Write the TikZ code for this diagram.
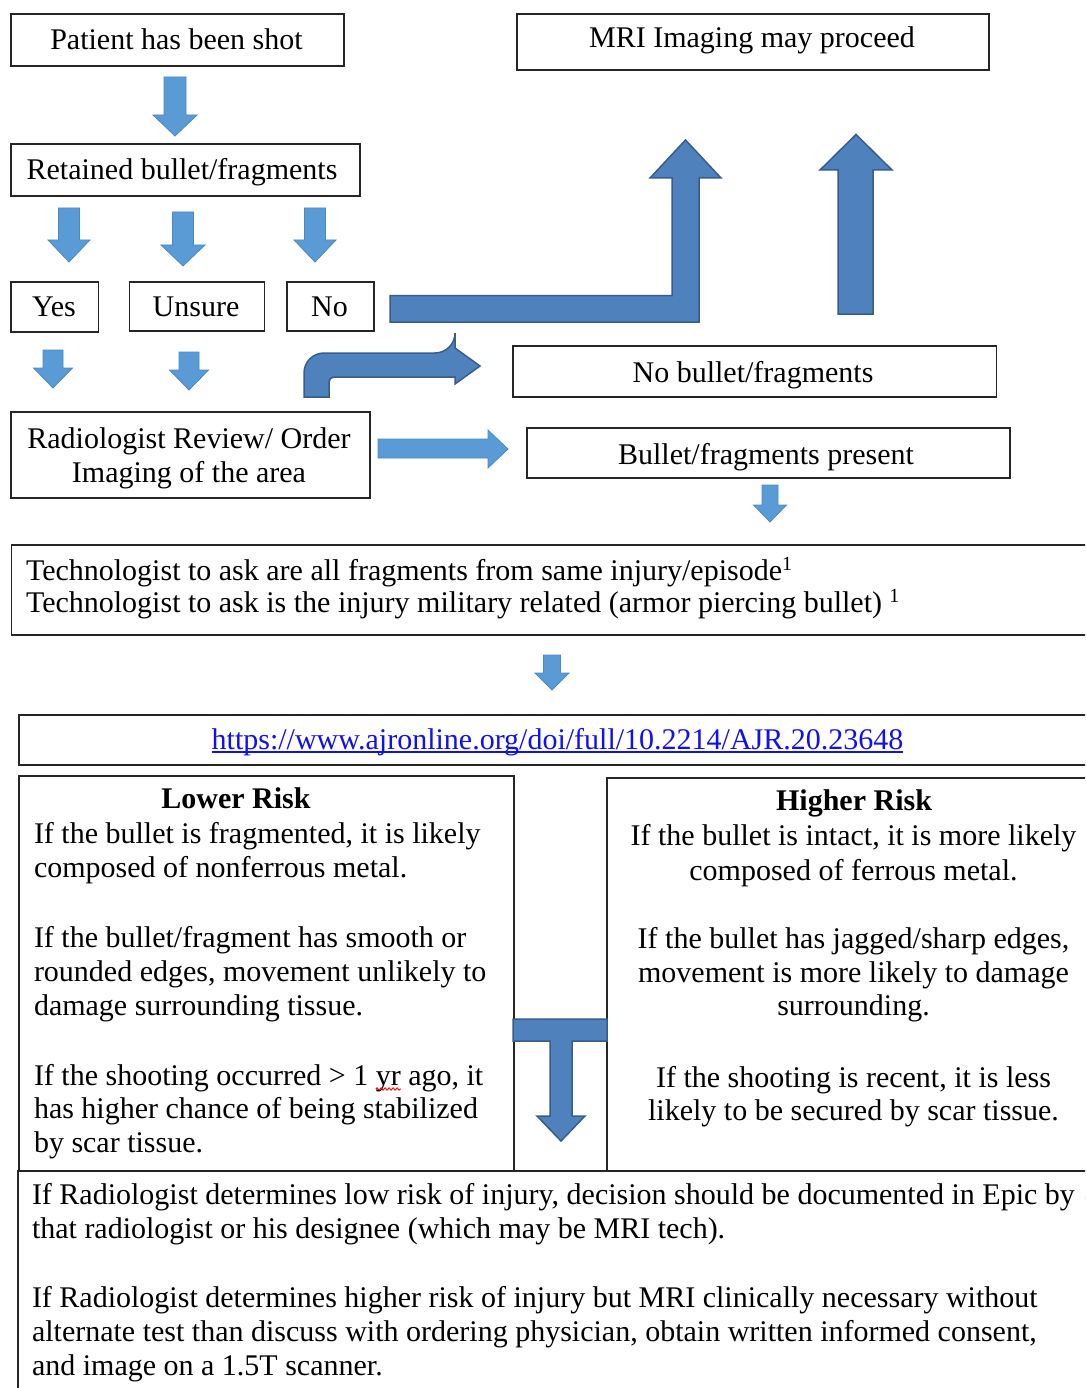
\documentclass[tikz,border=0pt]{standalone}
\usepackage{fontspec}
\setmainfont{Liberation Serif}
\usetikzlibrary{decorations.pathmorphing}
\definecolor{boxc}{HTML}{262626}
\definecolor{lblue}{HTML}{5B9BD5}
\definecolor{lblueline}{HTML}{4A89C8}
\definecolor{dblue}{HTML}{4F81BD}
\definecolor{dblueline}{HTML}{385D8A}
\definecolor{linkblue}{HTML}{1010F0}
\newcommand\tnr{\fontsize{30}{34}\selectfont}
% block arrow pointing down: style, cx, top, headbase, tip, shaft half width, head half width
\newcommand\bdown[7]{\draw[#1] ({#2-#6},#3) -- ({#2+#6},#3) -- ({#2+#6},#4) -- ({#2+#7},#4) -- (#2,#5) -- ({#2-#7},#4) -- ({#2-#6},#4) -- cycle;}
\begin{document}
\begin{tikzpicture}[x=1pt,y=-1pt,
  box/.style={draw=boxc, line width=1.8pt, fill=white, inner sep=0pt, anchor=north west},
  txt/.style={inner sep=0pt, outer sep=0pt, font=\tnr, text=black},
  sarr/.style={fill=lblue, draw=lblueline, line width=0.8pt},
  darr/.style={fill=dblue, draw=dblueline, line width=1.5pt, line join=miter}]
\useasboundingbox (0,0) rectangle (1085,1388);
\clip (0,0) rectangle (1085,1388);
\fill[white] (0,0) rectangle (1085,1388);

% ---- top left column ----
\node[box, minimum width=333pt, minimum height=52pt] (patient) at (10,13) {};
\node[txt, anchor=base] (patientT) at (176.5,50) {Patient has been shot};
\node[box, minimum width=349pt, minimum height=52pt] (retained) at (10,143) {};
\node[txt, anchor=base] (retainedT) at (182,180) {Retained bullet/fragments};
\node[box, minimum width=87.5pt, minimum height=50pt] (yes) at (10,281) {};
\node[txt, anchor=base] (yesT) at (54,316) {Yes};
\node[box, minimum width=135pt, minimum height=49pt] (unsure) at (128.5,281) {};
\node[txt, anchor=base] (unsureT) at (196,316) {Unsure};
\node[box, minimum width=87pt, minimum height=49pt] (no) at (286,281) {};
\node[txt, anchor=base] (noT) at (329.5,316) {No};
\node[box, minimum width=359pt, minimum height=86pt] (radio) at (10,411) {};
\node[txt, anchor=base] (radioT1) at (189,448) {Radiologist Review/ Order};
\node[txt, anchor=base] (radioT2) at (189,482) {Imaging of the area};

% ---- top right column ----
\node[box, minimum width=472pt, minimum height=56pt] (mri) at (516,13) {};
\node[txt, anchor=base] (mriT) at (752,48) {MRI Imaging may proceed};
\node[box, minimum width=483.5pt, minimum height=51pt] (nobullet) at (512,345) {};
\node[txt, anchor=base] (nobulletT) at (753,382) {No bullet/fragments};
\node[box, minimum width=483pt, minimum height=50pt] (present) at (526,427) {};
\node[txt, anchor=base] (presentT) at (766,464) {Bullet/fragments present};

% ---- technologist ----
\node[box, minimum width=1100pt, minimum height=90pt] (tech) at (10.5,544) {};
\node[txt, anchor=base west] (techT1) at (26,580) {Technologist to ask are all fragments from same injury/episode\textsuperscript{\fontsize{20}{20}\selectfont 1}};
\node[txt, anchor=base west] (techT2) at (26,612) {Technologist to ask is the injury military related (armor piercing bullet) \textsuperscript{\fontsize{20}{20}\selectfont 1}};

% ---- url ----
\node[box, minimum width=1100pt, minimum height=50pt] (url) at (18,714) {};
\node[txt, anchor=base, text=linkblue] (urlT) at (557.5,749) {https://www.ajronline.org/doi/full/10.2214/AJR.20.23648};
\draw[linkblue, line width=1.3pt] ([yshift=-3pt]urlT.base west) -- ([yshift=-3pt]urlT.base east);

% ---- lower risk ----
\node[box, minimum width=495pt, minimum height=420pt] (lower) at (18,775) {};
\node[txt, anchor=base, font=\tnr\bfseries] (lowT0) at (236,808) {Lower Risk};
\node[txt, anchor=base west] (lowT1) at (34,843) {If the bullet is fragmented, it is likely};
\node[txt, anchor=base west] (lowT2) at (34,877) {composed of nonferrous metal.};
\node[txt, anchor=base west] (lowT3) at (34,947) {If the bullet/fragment has smooth or};
\node[txt, anchor=base west] (lowT4) at (34,981) {rounded edges, movement unlikely to};
\node[txt, anchor=base west] (lowT5) at (34,1015) {damage surrounding tissue.};
\node[txt, anchor=base west] (lowT6a) at (34,1085) {If the shooting occurred > 1};
\node[txt, anchor=base west] (lowT6b) at ([xshift=7.5pt]lowT6a.base east) {yr};
\node[txt, anchor=base west] (lowT6c) at ([xshift=7.5pt]lowT6b.base east) {ago, it};
\draw[red, line width=0.9pt, decorate, decoration={snake, amplitude=1.2pt, segment length=4pt}]
  ([yshift=-4pt]lowT6b.base west) -- ([yshift=-4pt]lowT6b.base east);
\node[txt, anchor=base west] (lowT7) at (34,1118) {has higher chance of being stabilized};
\node[txt, anchor=base west] (lowT8) at (34,1152) {by scar tissue.};

% ---- higher risk ----
\node[box, minimum width=500pt, minimum height=420pt] (higher) at (606,777) {};
\node[txt, anchor=base, font=\tnr\bfseries] (highT0) at (854,810) {Higher Risk};
\node[txt, anchor=base] (highT1) at (853.5,845) {If the bullet is intact, it is more likely};
\node[txt, anchor=base] (highT2) at (853.5,880) {composed of ferrous metal.};
\node[txt, anchor=base] (highT3) at (853.5,948) {If the bullet has jagged/sharp edges,};
\node[txt, anchor=base] (highT4) at (853.5,982) {movement is more likely to damage};
\node[txt, anchor=base] (highT5) at (853.5,1015) {surrounding.};
\node[txt, anchor=base] (highT6) at (853.5,1087) {If the shooting is recent, it is less};
\node[txt, anchor=base] (highT7) at (853.5,1120) {likely to be secured by scar tissue.};

% ---- bottom ----
\node[box, minimum width=1100pt, minimum height=300pt] (bottom) at (17,1170) {};
\node[txt, anchor=base west] (botT1) at (32,1204) {If Radiologist determines low risk of injury, decision should be documented in Epic by};
\node[txt, anchor=base west] (botT2) at (32,1238) {that radiologist or his designee (which may be MRI tech).};
\node[txt, anchor=base west] (botT3) at (32,1307) {If Radiologist determines higher risk of injury but MRI clinically necessary without};
\node[txt, anchor=base west] (botT4) at (32,1341) {alternate test than discuss with ordering physician, obtain written informed consent,};
\node[txt, anchor=base west] (botT5) at (32,1375) {and image on a 1.5T scanner.};

% ---- light blue arrows ----
\bdown{sarr}{175}{77}{115}{136}{11}{22}
\bdown{sarr}{69}{208}{240}{262}{10.5}{21}
\bdown{sarr}{183}{212}{245}{266}{10.5}{22}
\bdown{sarr}{315}{208}{240}{262}{10.5}{21}
\bdown{sarr}{53}{350}{368}{388}{10}{19.5}
\bdown{sarr}{189}{352}{370}{390}{10}{19.5}
\bdown{sarr}{770}{485}{505}{522}{8}{16.5}
\bdown{sarr}{552}{655}{673}{690}{8.5}{17}
\draw[sarr] (378,439) -- (488,439) -- (488,430) -- (508,449) -- (488,468) -- (488,458) -- (378,458) -- cycle;

% ---- dark blue arrows ----
\draw[darr] (390,295.5) -- (672,295.5) -- (672,178) -- (650,178) -- (685.5,140) -- (721,178) -- (699,178) -- (699,322) -- (390,322) -- cycle;
\draw[darr] (838,314) -- (838,170) -- (820,170) -- (856,134.5) -- (892,170) -- (873,170) -- (873,314) -- cycle;
\draw[darr] (304,397) [rounded corners=20pt] -- (304,353) -- (455,353) [sharp corners] -- (455,348) -- (480,366) -- (455,384) -- (455,377) [rounded corners=5pt] -- (329,377) [sharp corners] -- (329,397) -- cycle;
\draw[darr] (513,1019) -- (607,1019) -- (607,1041) -- (572,1041) -- (572,1116) -- (585,1116) -- (561,1141) -- (537,1116) -- (550,1116) -- (550,1041) -- (513,1041) -- cycle;
\end{tikzpicture}
\end{document}
